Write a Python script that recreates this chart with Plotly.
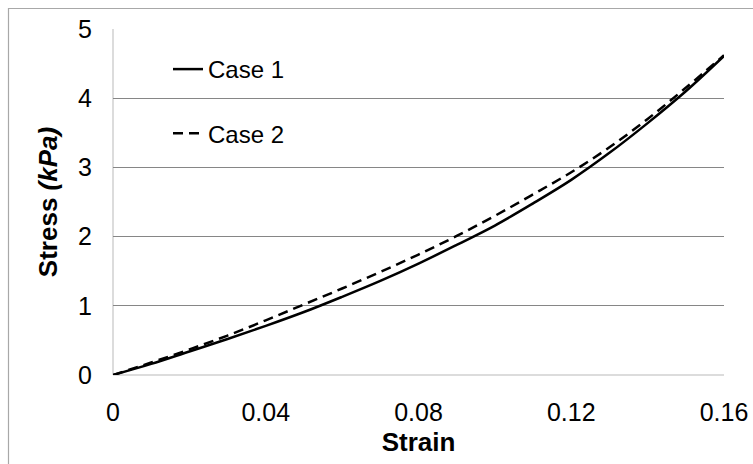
import plotly.graph_objects as go

# Strain values and the stress response (kPa) of the two cases
strain = [0.0, 0.01, 0.02, 0.03, 0.04, 0.05, 0.06, 0.07, 0.08,
          0.09, 0.10, 0.11, 0.12, 0.13, 0.14, 0.15, 0.16]
stress_case1 = [0.0, 0.16, 0.34, 0.52, 0.71, 0.91, 1.13, 1.36, 1.61,
                1.88, 2.16, 2.48, 2.82, 3.21, 3.64, 4.10, 4.61]
stress_case2 = [0.0, 0.18, 0.37, 0.57, 0.79, 1.02, 1.25, 1.49, 1.74,
                2.01, 2.30, 2.61, 2.93, 3.29, 3.70, 4.15, 4.62]

x_ticks = [0, 0.04, 0.08, 0.12, 0.16]
x_tick_labels = ["0", "0.04", "0.08", "0.12", "0.16"]
y_ticks = [0, 1, 2, 3, 4, 5]

FONT = "Liberation Sans, Arial, sans-serif"

fig = go.Figure()
fig.add_trace(go.Scatter(
    x=strain, y=stress_case1, mode="lines", name="Case 1",
    legendgroup="c1",
    line=dict(color="black", width=2.5, shape="spline"),
))
fig.add_trace(go.Scatter(
    x=strain, y=stress_case2, mode="lines", name="Case 2",
    legendgroup="c2",
    line=dict(color="black", width=2.5, dash="10px,6px", shape="spline"),
))

L, R, T, B = 113, 29, 29, 89
W, H = 753, 464
pw, ph = W - L - R, H - T - B

fig.update_layout(
    width=W, height=H,
    margin=dict(l=L, r=R, t=T, b=B, autoexpand=False),
    paper_bgcolor="white", plot_bgcolor="white",
    font=dict(family=FONT, color="black"),
    showlegend=True,
    legend=dict(
        x=(168 - L) / pw, y=(375 - 47) / ph, xanchor="left", yanchor="top",
        bgcolor="rgba(0,0,0,0)", font=dict(size=24, family=FONT),
        tracegroupgap=30, itemwidth=30,
    ),
    xaxis=dict(
        range=[0, 0.16], tickvals=x_ticks, ticktext=x_tick_labels,
        showgrid=False, zeroline=False, showline=False, automargin=False,
        tickfont=dict(size=25), ticks="", ticklabelstandoff=20,
        title=dict(text="<b>Strain</b>", font=dict(size=26), standoff=7),
        fixedrange=True,
    ),
    yaxis=dict(
        range=[0, 5], tickvals=y_ticks,
        showgrid=True, gridcolor="#868686", gridwidth=1,
        zeroline=False, showline=False, automargin=False,
        tickfont=dict(size=25), ticks="", ticklabelstandoff=20,
        title=dict(text="<b>Stress <i>(kPa)</i></b>", font=dict(size=26), standoff=12),
        fixedrange=True,
    ),
    shapes=[
        # light baseline and left axis line
        dict(type="line", xref="paper", yref="paper", x0=0, x1=1, y0=0, y1=0,
             line=dict(color="#d0d0d0", width=1.5), layer="below"),
        dict(type="line", xref="paper", yref="paper", x0=0, x1=0, y0=0, y1=1,
             line=dict(color="#d0d0d0", width=1.5), layer="below"),
        # chart-area frame
        dict(type="rect", xref="paper", yref="paper",
             x0=(8.5 - L) / pw, x1=(770 - L) / pw,
             y0=(375 - 480) / ph, y1=(375 - 8.5) / ph,
             line=dict(color="#a8a8a8", width=1.2), fillcolor="rgba(0,0,0,0)"),
    ],
)

fig.write_html("out.html")
